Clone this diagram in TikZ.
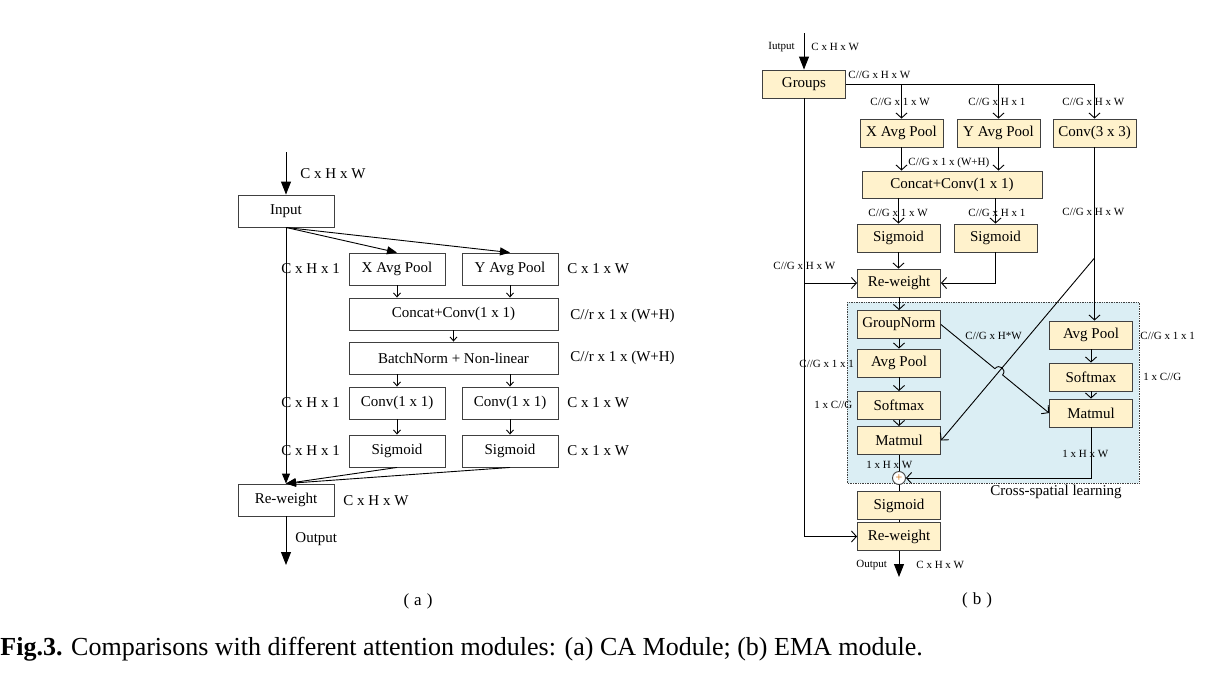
\documentclass[tikz,border=0pt]{standalone}
\usepackage{fontspec}
\setmainfont{Liberation Serif}
\usetikzlibrary{arrows.meta,calc,intersections}
\definecolor{boxfill}{HTML}{FFF2CC}
\definecolor{regionfill}{HTML}{DBEEF4}
\definecolor{edge}{HTML}{404040}

\begin{document}
\begin{tikzpicture}[x=1pt, y=-1pt, line width=0.9pt,
    every node/.style={font=\fontsize{15}{18}\selectfont, inner sep=0pt},
    abox/.style={draw=edge, minimum width=96pt, minimum height=32pt},
    awide/.style={abox, minimum width=209pt},
    bbox/.style={draw=edge, fill=boxfill, minimum width=83pt, minimum height=28pt},
    region/.style={draw=edge, densely dotted, fill=regionfill, line width=0.7pt},
    lab/.style={anchor=west},
    slab/.style={anchor=west, font=\fontsize{11}{13}\selectfont},
    sub/.style={font=\fontsize{17}{20}\selectfont},
    big/.style={-{Triangle[length=13pt,width=10pt]}},
    mid/.style={-{Triangle[length=10pt,width=8pt]}},
    tip/.style={-{Straight Barb[length=4pt,width=7pt]}},
    btip/.style={-{Straight Barb[length=5pt,width=11pt]}},
]
\useasboundingbox (0,0) rectangle (1219,673);

% (a) CA module
\coordinate (atop) at (286,152);
\node[abox] (ain) at (286,211) {Input};
\node[abox] (axp) at (397,269) {X Avg Pool};
\node[abox] (ayp) at (510,269) {Y Avg Pool};
\node[awide] (acc) at (453.5,314) {Concat+Conv(1 x 1)};
\node[awide] (abn) at (453.5,358) {BatchNorm + Non-linear};
\node[abox] (acl) at (397,403) {Conv(1 x 1)};
\node[abox] (acr) at (510,403) {Conv(1 x 1)};
\node[abox] (asl) at (397,451) {Sigmoid};
\node[abox] (asr) at (510,451) {Sigmoid};
\node[abox] (arw) at (286,500) {Re-weight};
\coordinate (aout) at (286,565);

\draw[big] (atop) -- (ain.north);
\draw[mid] (ain.south) -- (arw.north);
\draw[mid] (ain.south) -- (axp.north);
\draw[mid] (ain.south) -- (ayp.north);
\foreach \t/\b in {axp/acc, ayp/acc, acl/asl, acr/asr}
  \draw[tip] (\t.south) -- (\t.south |- \b.north);
\draw[tip] (acc.south) -- (abn.north);
\draw[tip] (abn.south -| acl) -- (acl.north);
\draw[tip] (abn.south -| acr) -- (acr.north);
\draw[mid] (asl.south) -- (arw.north);
\draw[mid] (asr.south) -- (arw.north);
\draw[big] (arw.south) -- (aout);

\node[lab] (la1) at (300,174) {C x H x W};
\node[lab] (la2) at (281,269) {C x H x 1};
\node[lab] (la3) at (567,269) {C x 1 x W};
\node[lab] (la4) at (570,316) {C//r x 1 x (W+H)};
\node[lab] (la5) at (570,358) {C//r x 1 x (W+H)};
\node[lab] (la6) at (281,403) {C x H x 1};
\node[lab] (la7) at (567,403) {C x 1 x W};
\node[lab] (la8) at (281,451) {C x H x 1};
\node[lab] (la9) at (567,451) {C x 1 x W};
\node[lab] (la10) at (343,501) {C x H x W};
\node[lab] (la11) at (295,539) {Output};
\node[sub] (capa) at (418,601) {(\hspace{5pt}a\hspace{5pt})};

% (b) EMA module
\draw[region] (847,302) rectangle (1139,483);
\node[lab] (cross) at (990,492) {Cross-spatial learning};

\coordinate (btop) at (804,33);
\node[bbox] (grp) at (804,84) {Groups};
\node[bbox] (xpb) at (901.5,133) {X Avg Pool};
\node[bbox] (ypb) at (998.5,133) {Y Avg Pool};
\node[bbox] (cv3) at (1094.5,133) {Conv(3 x 3)};
\node[bbox, minimum width=180pt, minimum height=27pt] (ccb) at (952,184.5) {Concat+Conv(1 x 1)};
\node[bbox] (sgl) at (898.5,238) {Sigmoid};
\node[bbox] (sgr) at (995.5,238) {Sigmoid};
\node[bbox] (rwb) at (899,283) {Re-weight};
\node[bbox] (gn) at (899,324.5) {GroupNorm};
\node[bbox] (apl) at (899,363) {Avg Pool};
\node[bbox] (sml) at (899,405.5) {Softmax};
\node[bbox] (mml) at (899,440.5) {Matmul};
\node[bbox] (apr) at (1091,335) {Avg Pool};
\node[bbox] (smr) at (1091,377) {Softmax};
\node[bbox] (mmr) at (1091,413) {Matmul};
\node[circle, draw=edge, fill=white, minimum size=13pt, text=orange!80!black,
  font=\fontsize{12}{12}\selectfont] (pl) at (899,478) {+};
\node[bbox] (sgo) at (899,505.5) {Sigmoid};
\node[bbox] (rwo) at (899,536.5) {Re-weight};
\coordinate (bout) at (899,577);
\coordinate (dg) at (cv3 |- 0,258);

\draw[big] (btop) -- (grp.north);
\draw[btip] (grp.east) -- (grp.east -| cv3) -- (cv3.north);
\draw[btip] (grp.east -| xpb) -- (xpb.north);
\draw[btip] (grp.east -| ypb) -- (ypb.north);
\draw[btip] (xpb.south) -- (xpb.south |- ccb.north);
\draw[btip] (ypb.south) -- (ypb.south |- ccb.north);
\draw[btip] (ccb.south -| sgl) -- (sgl.north);
\draw[btip] (ccb.south -| sgr) -- (sgr.north);
\draw[btip] (sgl.south) -- (sgl.south |- rwb.north);
\draw[btip] (sgr.south) -- (sgr |- rwb) -- (rwb.east);
\draw[btip] (grp.south) -- (grp |- rwb) -- (rwb.west);
\draw[btip] (grp |- rwb) -- (grp |- rwo) -- (rwo.west);
\draw[btip] (rwb.south) -- (gn.north);
\foreach \t/\b in {gn/apl, apl/sml, sml/mml, apr/smr, smr/mmr}
  \draw[btip] (\t.south) -- (\b.north);
\draw[btip] (cv3.south) -- (cv3.south |- apr.north);
\draw[btip, name path=dgl] (dg) -- (mml.east);
\path[name path=gnl] (gn.east) -- (mmr.west);
\path[name intersections={of=gnl and dgl, by=jx}];
\draw[btip] (gn.east) -- ($(jx)!5pt!(gn.east)$)
  .. controls +(50:7pt) and +(50:7pt) .. ($(jx)!5pt!(mmr.west)$) -- (mmr.west);
\draw (mml.south) -- (pl.north);
\draw[btip] (mmr.south) -- (mmr.south |- pl) -- (pl.east);
\draw (pl.south) -- (sgo.north);
\draw (sgo.south) -- (rwo.north);
\draw[big] (rwo.south) -- (bout);

\node[slab] (lb1) at (768,47) {Iutput};
\node[slab] (lb2) at (811,47) {C x H x W};
\node[slab] (lb3) at (848,75) {C//G x H x W};
\node[slab] (lb4) at (870,102) {C//G x 1 x W};
\node[slab] (lb5) at (968,102) {C//G x H x 1};
\node[slab] (lb6) at (1062,102) {C//G x H x W};
\node[slab] (lb7) at (908,163) {C//G x 1 x (W+H)};
\node[slab] (lb8) at (868,213) {C//G x 1 x W};
\node[slab] (lb9) at (968,213) {C//G x H x 1};
\node[slab] (lb10) at (1062,212) {C//G x H x W};
\node[slab] (lb11) at (773,266) {C//G x H x W};
\node[slab] (lb12) at (965,336) {C//G x H*W};
\node[slab] (lb13) at (799,364) {C//G x 1 x 1};
\node[slab] (lb14) at (814,405) {1 x C//G};
\node[slab] (lb15) at (1140,336) {C//G x 1 x 1};
\node[slab] (lb16) at (1143,377) {1 x C//G};
\node[slab] (lb17) at (1062,454) {1 x H x W};
\node[slab] (lb18) at (866,465) {1 x H x W};
\node[slab] (lb19) at (856,565) {Output};
\node[slab] (lb20) at (916,565) {C x H x W};
\node[sub] (capb) at (977,600) {(\hspace{5pt}b\hspace{5pt})};

\node[anchor=west, font=\fontsize{26}{30}\selectfont] (cap) at (0,649)
  {\textbf{Fig.3.} Comparisons with different attention modules: (a) CA Module; (b) EMA module.};
\end{tikzpicture}
\end{document}
